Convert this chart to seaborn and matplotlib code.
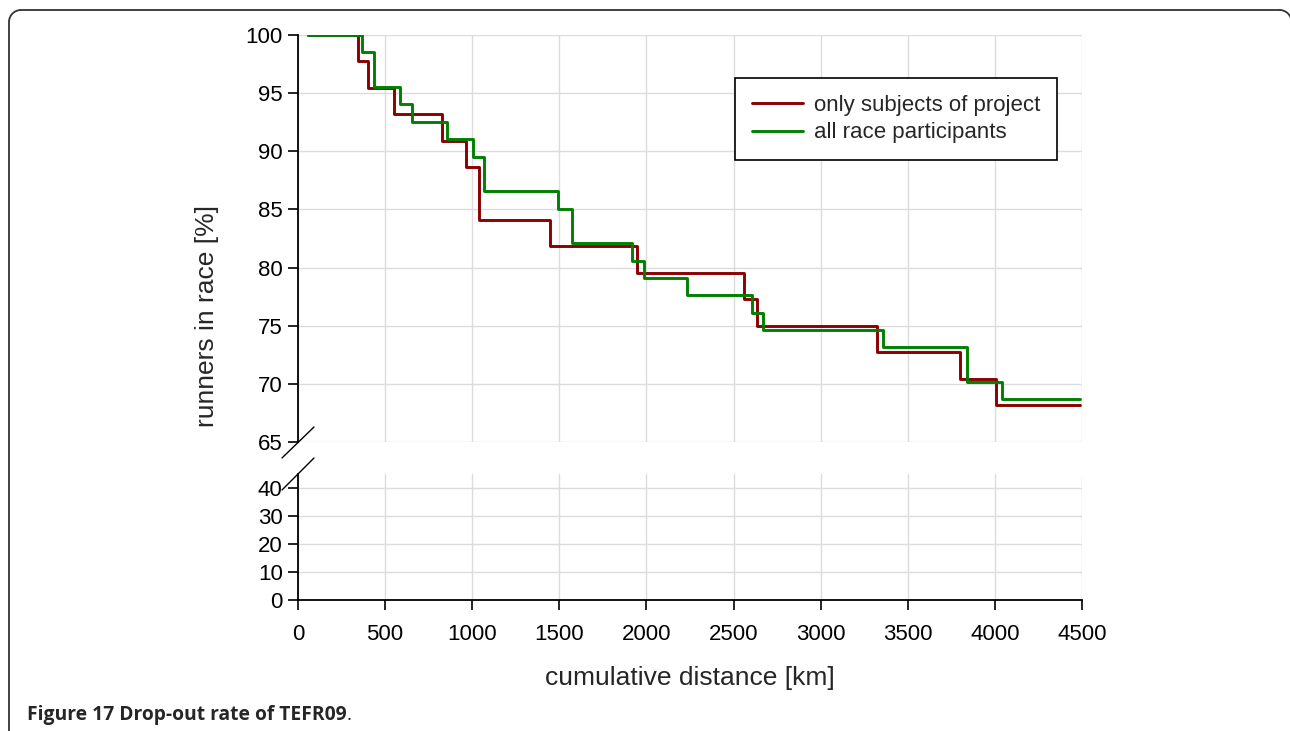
import seaborn as sns
import matplotlib.pyplot as plt
from matplotlib.patches import Arc
from matplotlib.lines import Line2D

# distances (km) where the share of runners still in race changes
subj_km = [55, 343, 404, 549, 826, 964, 1039, 1446, 1948, 2560, 2633, 3325, 3802, 4006, 4490]
subj_pct = [100, 97.73, 95.45, 93.18, 90.91, 88.64, 84.09, 81.82, 79.55, 77.27, 75.00, 72.73, 70.45, 68.18, 68.18]

all_km = [55, 367, 438, 585, 656, 857, 1005, 1070, 1490, 1573, 1915, 1988, 2233, 2604, 2667, 3360, 3840, 4039, 4490]
all_pct = [100, 98.51, 95.52, 94.03, 92.54, 91.04, 89.55, 86.57, 85.07, 82.09, 80.60, 79.10, 77.61, 76.12, 74.63,
           73.13, 70.15, 68.66, 68.66]

x_ticks = [0, 500, 1000, 1500, 2000, 2500, 3000, 3500, 4000, 4500]
top_yticks = [65, 70, 75, 80, 85, 90, 95, 100]
low_yticks = [0, 10, 20, 30, 40]

RED = "#8b0000"
GREEN = "#008000"

sns.set_theme(style="whitegrid")
plt.rcParams['font.family'] = ['Liberation Sans', 'DejaVu Sans']

W, H = 1290, 731
fig = plt.figure(figsize=(W / 100, H / 100), dpi=100)


def fx(px):
    return px / W


def fy(py):
    return 1 - py / H


ax_top = fig.add_axes([fx(298), fy(442), fx(1082) - fx(298), fy(35) - fy(442)])
ax_low = fig.add_axes([fx(298), fy(600), fx(1082) - fx(298), fy(474) - fy(600)])

for ax in (ax_top, ax_low):
    sns.lineplot(x=subj_km, y=subj_pct, ax=ax, color=RED, lw=2.1, drawstyle='steps-post',
                 label="only subjects of project", legend=False)
    sns.lineplot(x=all_km, y=all_pct, ax=ax, color=GREEN, lw=2.1, drawstyle='steps-post',
                 label="all race participants", legend=False)
    ax.set_xlim(0, 4500)
    ax.set_xticks(x_ticks)
    ax.set_xlabel("")
    ax.set_ylabel("")
    ax.set_facecolor('white')
    for s in ax.spines.values():
        s.set_visible(False)
    ax.spines['left'].set_visible(True)
    ax.spines['left'].set_color('black')
    ax.spines['left'].set_linewidth(1.3)
    ax.tick_params(axis='y', which='major', direction='out', length=7, width=1.2, color='black',
                   left=True, labelsize=16, pad=4, labelcolor='black')
    ax.grid(True, color='#dcdcdc', lw=1)

ax_top.set_ylim(65, 100)
ax_top.set_yticks(top_yticks)
ax_top.tick_params(axis='x', bottom=False, labelbottom=False)

ax_low.set_ylim(0, 45)
ax_low.set_yticks(low_yticks)
ax_low.spines['bottom'].set_visible(True)
ax_low.spines['bottom'].set_color('black')
ax_low.spines['bottom'].set_linewidth(1.3)
ax_low.tick_params(axis='x', direction='out', length=7, width=1.2, color='black', bottom=True,
                   labelsize=16, pad=10, labelcolor='black')

leg = ax_top.legend(loc='upper left', bbox_to_anchor=(fx(735), fy(78)), bbox_transform=fig.transFigure,
                    fontsize=16, frameon=True, fancybox=False, edgecolor='black', borderaxespad=0,
                    handlelength=2.3, handletextpad=0.5, borderpad=0.75, labelspacing=0.3)
leg.get_frame().set_linewidth(1.2)
leg.get_frame().set_facecolor('white')
leg.get_frame().set_alpha(1)

# axis break marks
for y0, y1 in [(458, 427), (490, 458)]:
    fig.add_artist(Line2D([fx(282), fx(314)], [fy(y0), fy(y1)], color='black', lw=1,
                          transform=fig.transFigure))

fig.text(fx(207), fy(316), "runners in race [%]", rotation=90, ha='center', va='center', fontsize=19)
fig.text(fx(690), fy(678), "cumulative distance [km]", ha='center', va='center', fontsize=19)

cap = fig.text(fx(27), fy(715), "Figure 17 Drop-out rate of TEFR09", ha='left', va='center',
               fontsize=13.9, fontweight='bold', family=['Open Sans', 'DejaVu Sans'], color='#262626')
fig.canvas.draw()
bb = cap.get_window_extent()
fig.text(bb.x1 / W, fy(715), ".", ha='left', va='center', fontsize=13.9,
         family=['Open Sans', 'DejaVu Sans'], color='#262626')

# rounded page frame (top and left edges, corners in inches)
t = fig.dpi_scale_trans
r = 0.12
top_y = 7.21
left_x = 0.09
right_x = 12.915
fig.add_artist(Line2D([left_x + r, right_x - r], [top_y, top_y], color='#333333', lw=1.3, transform=t))
fig.add_artist(Line2D([left_x, left_x], [top_y - r, -0.1], color='#333333', lw=1.3, transform=t))
fig.add_artist(Arc((left_x + r, top_y - r), 2 * r, 2 * r, theta1=90, theta2=180, color='#333333',
                   lw=1.3, transform=t))
fig.add_artist(Arc((right_x - r, top_y - r), 2 * r, 2 * r, theta1=0, theta2=90, color='#333333',
                   lw=1.3, transform=t))

fig.savefig("out.png", dpi=100)
